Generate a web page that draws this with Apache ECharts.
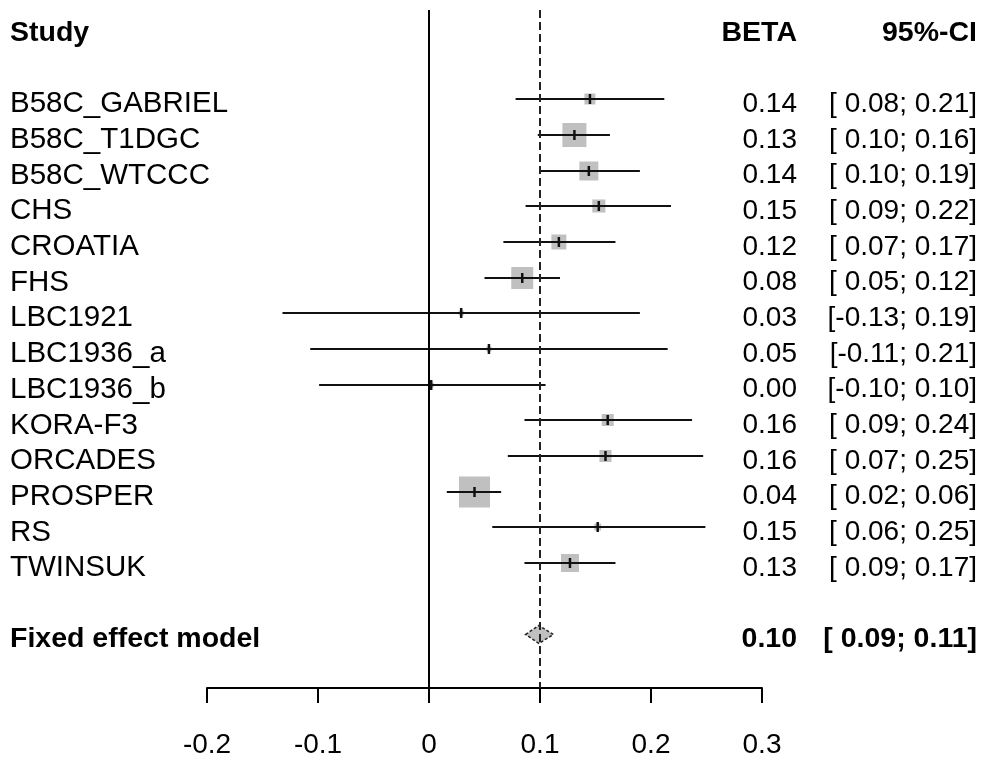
<!DOCTYPE html>
<html>
<head>
<meta charset="utf-8">
<script src="https://cdn.jsdelivr.net/npm/echarts/dist/echarts.min.js"></script>
<style>
html, body { margin: 0; padding: 0; background: #fff; }
#main { width: 984px; height: 759px; }
</style>
</head>
<body>
<div id="main"></div>
<script>
// study data
var studies = ['B58C_GABRIEL', 'B58C_T1DGC', 'B58C_WTCCC', 'CHS', 'CROATIA', 'FHS', 'LBC1921',
    'LBC1936_a', 'LBC1936_b', 'KORA-F3', 'ORCADES', 'PROSPER', 'RS', 'TWINSUK'];
var beta    = [0.145, 0.131, 0.144, 0.153, 0.117, 0.084, 0.029, 0.054, 0.002, 0.161, 0.159, 0.041, 0.152, 0.127];
var ciLower = [0.078, 0.098, 0.100, 0.087, 0.067, 0.050, -0.132, -0.107, -0.099, 0.086, 0.071, 0.016, 0.057, 0.086];
var ciUpper = [0.212, 0.163, 0.190, 0.218, 0.168, 0.118, 0.190, 0.215, 0.105, 0.237, 0.247, 0.065, 0.249, 0.168];
var weights = [3.3, 15.9, 9.9, 4.7, 6.2, 13.3, 0.7, 0.7, 0.7, 4.0, 4.0, 26.5, 1.3, 8.9];
var betaLabels = ['0.14', '0.13', '0.14', '0.15', '0.12', '0.08', '0.03', '0.05', '0.00', '0.16', '0.16', '0.04', '0.15', '0.13'];
var ciLabels = ['[ 0.08; 0.21]', '[ 0.10; 0.16]', '[ 0.10; 0.19]', '[ 0.09; 0.22]', '[ 0.07; 0.17]', '[ 0.05; 0.12]',
    '[-0.13; 0.19]', '[-0.11; 0.21]', '[-0.10; 0.10]', '[ 0.09; 0.24]', '[ 0.07; 0.25]', '[ 0.02; 0.06]',
    '[ 0.06; 0.25]', '[ 0.09; 0.17]'];

// fixed effect model
var fixedName = 'Fixed effect model';
var fixedBeta = 0.099, fixedLower = 0.087, fixedUpper = 0.112;
var fixedBetaLabel = '0.10', fixedCiLabel = '[ 0.09; 0.11]';

var xTickLabels = ['-0.2', '-0.1', '0', '0.1', '0.2', '0.3'];

// rows: header, blank, studies, blank, fixed, blank
var leftCol = ['Study', ''].concat(studies, ['', fixedName, '']);
var betaCol = ['BETA', ''].concat(betaLabels, ['', fixedBetaLabel, '']);
var ciCol = ['95%-CI', ''].concat(ciLabels, ['', fixedCiLabel, '']);
var boldRows = [0, studies.length + 3];
var fixedRow = studies.length + 3;

var FONT = 'Liberation Sans, Arial, sans-serif';

function fmt(v, i) {
    if (v === '') return '';
    return boldRows.indexOf(i) >= 0 ? '{b|' + v + '}' : '{n|' + v + '}';
}
function richFor(size) {
    return {
        b: { fontWeight: 'bold', fontSize: 28.5, fontFamily: FONT, color: '#000' },
        n: { fontSize: size, fontFamily: FONT, color: '#000' }
    };
}

var studyData = studies.map(function (s, i) {
    return [beta[i], i + 2, ciLower[i], ciUpper[i], weights[i]];
});

var myChart = echarts.init(document.getElementById('main'));
var option = {
    animation: false,
    backgroundColor: '#fff',
    grid: { left: 207, right: 222, top: 10, bottom: 71 },
    xAxis: {
        type: 'value',
        min: -0.2,
        max: 0.3,
        interval: 0.1,
        splitLine: { show: false },
        axisLine: { show: true, lineStyle: { color: '#000', width: 2 } },
        axisTick: { show: true, length: 15, lineStyle: { color: '#000', width: 2 } },
        axisLabel: {
            fontSize: 28, fontFamily: FONT, color: '#000', margin: 43,
            formatter: function (v, i) { return xTickLabels[i]; }
        }
    },
    yAxis: [
        {
            type: 'category', inverse: true, data: leftCol, position: 'left',
            axisLine: { show: false }, axisTick: { show: false }, splitLine: { show: false },
            axisLabel: { interval: 0, align: 'left', margin: 197, padding: [10, 0, 0, 0], formatter: fmt, rich: richFor(29.5) }
        },
        {
            type: 'category', inverse: true, data: betaCol, position: 'right',
            axisLine: { show: false }, axisTick: { show: false }, splitLine: { show: false },
            axisLabel: { interval: 0, align: 'right', margin: 35, padding: [10, 0, 0, 0], formatter: fmt, rich: richFor(28) }
        },
        {
            type: 'category', inverse: true, data: ciCol, position: 'right',
            axisLine: { show: false }, axisTick: { show: false }, splitLine: { show: false },
            axisLabel: { interval: 0, align: 'right', margin: 215, padding: [10, 0, 0, 0], formatter: fmt, rich: richFor(28) }
        }
    ],
    series: [
        {
            // reference lines: no effect and fixed effect
            type: 'line',
            data: [],
            z: 1,
            markLine: {
                silent: true,
                symbol: ['none', 'none'],
                label: { show: false },
                data: [
                    { xAxis: 0, lineStyle: { type: 'solid', color: '#000', width: 2 } },
                    { xAxis: fixedBeta, lineStyle: { type: [8, 4], color: '#222', width: 2 } }
                ]
            }
        },
        {
            type: 'custom',
            z: 3,
            encode: { x: [0, 2, 3], y: 1 },
            data: studyData,
            renderItem: function (params, api) {
                var row = api.value(1);
                var pE = api.coord([api.value(0), row]);
                var pL = api.coord([api.value(2), row]);
                var pH = api.coord([api.value(3), row]);
                var y = Math.round(pE[1]);
                var side = Math.sqrt(api.value(4) * 36.3);
                return {
                    type: 'group',
                    children: [
                        { type: 'rect', shape: { x: pE[0] - side / 2, y: y - side / 2, width: side, height: side },
                          style: { fill: '#c0c0c0' } },
                        { type: 'line', shape: { x1: pL[0], y1: y, x2: pH[0], y2: y },
                          style: { stroke: '#111', lineWidth: 2 } },
                        { type: 'line', shape: { x1: pE[0], y1: y - 5, x2: pE[0], y2: y + 5 },
                          style: { stroke: '#111', lineWidth: 2.5 } }
                    ]
                };
            }
        },
        {
            type: 'custom',
            z: 3,
            encode: { x: [0, 2, 3], y: 1 },
            data: [[fixedBeta, fixedRow, fixedLower, fixedUpper]],
            renderItem: function (params, api) {
                var row = api.value(1);
                var pE = api.coord([api.value(0), row]);
                var pL = api.coord([api.value(2), row]);
                var pH = api.coord([api.value(3), row]);
                return {
                    type: 'polygon',
                    shape: { points: [[pL[0], pL[1]], [pE[0], pE[1] - 9], [pH[0], pH[1]], [pE[0], pE[1] + 9]] },
                    style: { fill: '#c0c0c0', stroke: '#222', lineWidth: 1.5, lineDash: [3, 2] }
                };
            }
        }
    ]
};
myChart.setOption(option);
</script>
</body>
</html>
